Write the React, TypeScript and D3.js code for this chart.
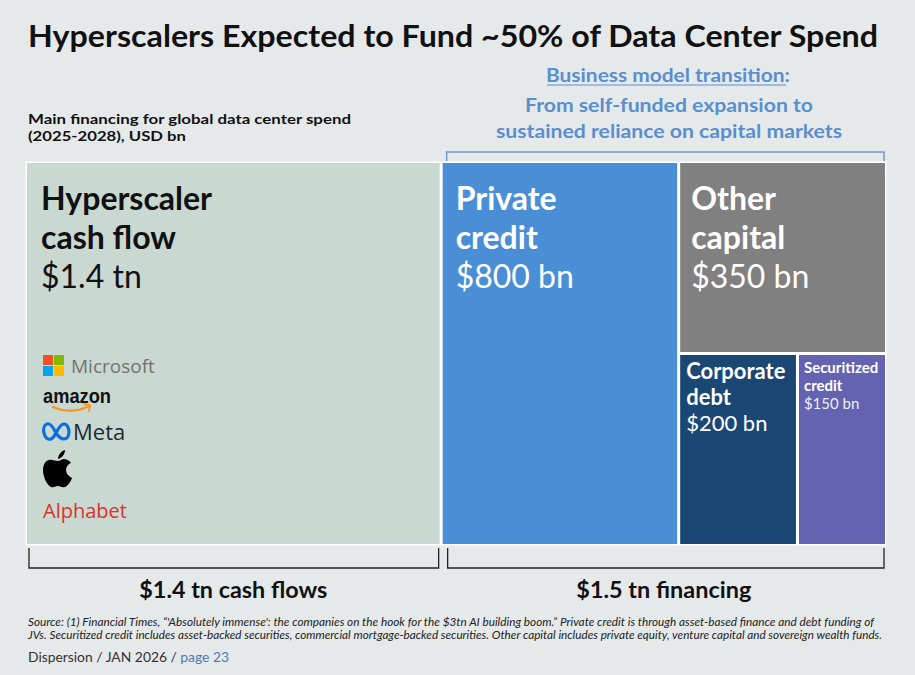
import { useMemo } from "react";
import * as d3 from "d3";

// financing sources, USD bn
const sources = ["Hyperscaler cash flow", "Private credit", "Other capital", "Corporate debt", "Securitized credit"];
const values = [1400, 800, 350, 200, 150];
const valueLabels = ["$1.4 tn", "$800 bn", "$350 bn", "$200 bn", "$150 bn"];
const titleLines = [
  ["Hyperscaler", "cash flow"],
  ["Private", "credit"],
  ["Other", "capital"],
  ["Corporate", "debt"],
  ["Securitized", "credit"],
];
const colors = ["#c9d8d1", "#4a8fd6", "#808080", "#1b4775", "#6463b1"];
const totals = ["$1.4 tn cash flows", "$1.5 tn financing"];

const W = 915;
const H = 675;
const area = { x: 27, y: 163, w: 858, h: 381 };
const BG = "#e6e9ea";
const FONT = "Lato, 'Open Sans', sans-serif";

interface INode {
  name: string;
  value?: number;
  idx?: number;
  children?: INode[];
}

// per-cell text sizes
const textSpec = [
  { fs: 32, step: 39, vfs: 32, dx: 14, y0: 47 },
  { fs: 32, step: 39, vfs: 32, dx: 13, y0: 47 },
  { fs: 32, step: 39, vfs: 32, dx: 11, y0: 47 },
  { fs: 22, step: 26, vfs: 22, dx: 6, y0: 24 },
  { fs: 15, step: 18, vfs: 15, dx: 5, y0: 18 },
];

export default function App() {
  const leaves = useMemo(() => {
    const data: INode = {
      name: "root",
      children: [
        { name: sources[0], value: values[0], idx: 0 },
        { name: sources[1], value: values[1], idx: 1 },
        {
          name: "markets",
          children: [
            { name: sources[2], value: values[2], idx: 2 },
            {
              name: "debt",
              children: [
                { name: sources[3], value: values[3], idx: 3 },
                { name: sources[4], value: values[4], idx: 4 },
              ],
            },
          ],
        },
      ],
    };
    const root = d3.hierarchy<INode>(data).sum((d) => d.value || 0);
    d3.treemap<INode>()
      .tile(d3.treemapSliceDice)
      .size([area.w, area.h])
      .paddingInner(3)
      .paddingOuter(0)(root);
    return (root.leaves() as d3.HierarchyRectangularNode<INode>[]).sort(
      (a, b) => (a.data.idx as number) - (b.data.idx as number)
    );
  }, []);

  const left = leaves[0];
  const lx = area.x + left.x0;
  const ly = area.y + left.y0;
  const rightX0 = area.x + leaves[1].x0;
  const rightX1 = area.x + leaves[2].x1;
  const bY = area.y + area.h + 4;

  return (
    <svg width={W} height={H} style={{ position: "absolute", left: 0, top: 0 }} fontFamily={FONT}>
      <rect width={W} height={H} fill={BG} />

      {/* title */}
      <text x={28} y={47} fontSize={31} fontWeight={700} fill="#111" textLength={850} lengthAdjust="spacingAndGlyphs">
        Hyperscalers Expected to Fund ~50% of Data Center Spend
      </text>

      <text x={28} y={124} fontSize={14} fontWeight={700} fill="#111" textLength={323} lengthAdjust="spacingAndGlyphs">
        Main financing for global data center spend
      </text>
      <text x={28} y={141} fontSize={14} fontWeight={700} fill="#111" textLength={158} lengthAdjust="spacingAndGlyphs">
        (2025-2028), USD bn
      </text>

      {/* transition note */}
      <g fill="#5a8fcf" fontSize={19} fontWeight={700} textAnchor="middle">
        <text x={668} y={82} textLength={244} lengthAdjust="spacingAndGlyphs">
          Business model transition:
        </text>
        <line x1={547} x2={786} y1={85} y2={85} stroke="#5a8fcf" strokeWidth={1.2} />
        <text x={669} y={112} textLength={288} lengthAdjust="spacingAndGlyphs">From self-funded expansion to</text>
        <text x={669} y={138} textLength={346} lengthAdjust="spacingAndGlyphs">sustained reliance on capital markets</text>
      </g>
      <path
        d={`M${rightX0 + 4},161 V152 H${rightX1 - 1} V161`}
        fill="none"
        stroke="#6c9bd2"
        strokeWidth={1.5}
      />

      {/* treemap */}
      <rect x={area.x - 1.5} y={area.y - 1.5} width={area.w + 3} height={area.h + 3} fill="#fff" />
      {leaves.map((d) => {
        const i = d.data.idx as number;
        const s = textSpec[i];
        const x = area.x + d.x0;
        const y = area.y + d.y0;
        const txt = i === 0 ? "#111" : "#fff";
        return (
          <g key={d.data.name}>
            <rect x={x} y={y} width={d.x1 - d.x0} height={d.y1 - d.y0} fill={colors[i]} />
            {titleLines[i].map((t, j) => (
              <text key={t} x={x + s.dx} y={y + s.y0 + j * s.step} fontSize={s.fs} fontWeight={700} fill={txt}>
                {t}
              </text>
            ))}
            <text x={x + s.dx} y={y + s.y0 + 2 * s.step} fontSize={s.vfs} fill={txt} opacity={i === 4 ? 0.9 : 1}>
              {valueLabels[i]}
            </text>
          </g>
        );
      })}

      {/* hyperscaler logos */}
      <g transform={`translate(${lx + 16},${ly + 192})`}>
        <rect x={0} y={0} width={10} height={10} fill="#f25022" />
        <rect x={11} y={0} width={10} height={10} fill="#7fba00" />
        <rect x={0} y={11} width={10} height={10} fill="#00a4ef" />
        <rect x={11} y={11} width={10} height={10} fill="#ffb900" />
        <text x={28} y={18} fontSize={19} fill="#737373" fontFamily="'Open Sans', sans-serif">Microsoft</text>

        <text x={0} y={48} fontSize={20} fontWeight={700} fill="#111" fontFamily="'Liberation Sans', Arial, sans-serif" textLength={68} lengthAdjust="spacingAndGlyphs">amazon</text>
        <path d="M10,52 Q29,60 46,51" fill="none" stroke="#f29a1f" strokeWidth={2.4} strokeLinecap="round" />
        <path d="M41,49 L47,50.5 L46,56" fill="none" stroke="#f29a1f" strokeWidth={2} strokeLinecap="round" />

        <path
          d="M13,78 C9,70 6,68 4,69 C1,70 0,74 1,78 C2,83 5,85 8,84 C10,83 12,80 13,78 C15,74 18,69 21,69 C24,69 26,73 26,77 C26,81 24,84 21,84 C18,84 15,81 13,78 Z"
          fill="none"
          stroke="#0a6ee3"
          strokeWidth={3.2}
        />
        <text x={30} y={85} fontSize={22} fill="#1c2b33" fontFamily="'Open Sans', sans-serif">Meta</text>

        <g transform="translate(0,95)">
          <path
            d="M15,11 C12,11 9,9 6,10 C2,11 0,15 0,20 C0,27 4,35 8,37 C11,38 12,36 15,36 C18,36 19,38 22,37 C25,36 28,31 29,28 C25,26 23,23 23,20 C23,17 25,14 28,13 C26,10 23,9 21,9 C19,9 17,11 15,11 Z"
            fill="#000"
          />
          <path d="M15,9 C15,5 18,1 22,0 C22,4 19,8 15,9 Z" fill="#000" />
        </g>

        <text x={0} y={163} fontSize={20} fill="#d9342b" fontFamily="'Open Sans', sans-serif" textLength={84} lengthAdjust="spacingAndGlyphs">Alphabet</text>
      </g>

      {/* bottom brackets */}
      <g fill="none" stroke="#222" strokeWidth={1.3}>
        <path d={`M${area.x + 2},${bY} V${bY + 20} H${area.x + left.x1 - 1} V${bY}`} />
        <path d={`M${rightX0 + 5},${bY} V${bY + 20} H${rightX1 - 1} V${bY}`} />
      </g>
      <text x={(area.x + area.x + left.x1) / 2} y={598} fontSize={22} fontWeight={700} textAnchor="middle" fill="#111" textLength={188} lengthAdjust="spacingAndGlyphs">
        {totals[0]}
      </text>
      <text x={(rightX0 + rightX1) / 2} y={598} fontSize={22} fontWeight={700} textAnchor="middle" fill="#111" textLength={175} lengthAdjust="spacingAndGlyphs">
        {totals[1]}
      </text>

      {/* footnotes */}
      <g fontSize={10.5} fontStyle="italic" fill="#222">
        <text x={28} y={626} textLength={846} lengthAdjust="spacingAndGlyphs">
          Source: (1) Financial Times, “'Absolutely immense': the companies on the hook for the $3tn AI building boom.” Private credit is through asset-based finance and debt funding of
        </text>
        <text x={28} y={639} textLength={854} lengthAdjust="spacingAndGlyphs">
          JVs. Securitized credit includes asset-backed securities, commercial mortgage-backed securities. Other capital includes private equity, venture capital and sovereign wealth funds.
        </text>
      </g>
      <text x={28} y={662} fontSize={13.5} fill="#333" textLength={201} lengthAdjust="spacingAndGlyphs">
        Dispersion / JAN 2026 / <tspan fill="#4a7ab8">page 23</tspan>
      </text>
    </svg>
  );
}
